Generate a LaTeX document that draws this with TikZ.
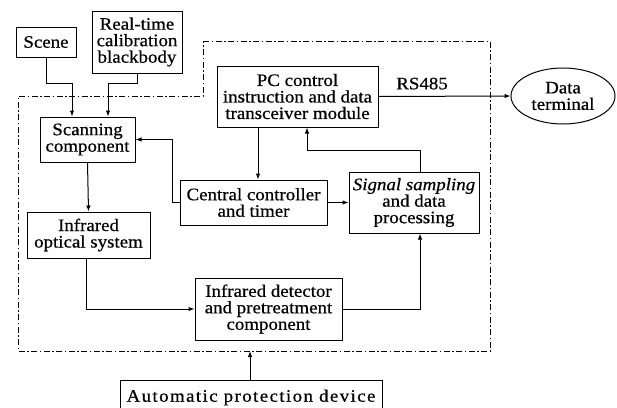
\documentclass[tikz,border=0pt]{standalone}
\usepackage{fontspec}
\setmainfont{Liberation Serif}[FakeStretch=1.08,FakeBold=0.6]
\usetikzlibrary{arrows.meta,shapes.geometric}
\begin{document}
\begin{tikzpicture}[x=1pt,y=-1pt,
  font=\fontsize{17.5}{16.5}\selectfont,
  box/.style={draw,line width=1pt,rectangle,inner sep=0pt,align=center},
  conn/.style={line width=1pt,-{Latex[length=6pt,width=4.5pt]}},
  border/.style={line width=0.8pt,dash pattern=on 6pt off 2.5pt on 1.5pt off 2.5pt}]
\clip (0,0) rectangle (617,407);
\fill[white] (0,0) rectangle (617,407);
% boundary
\draw[border] (203,41) -- (490,41) -- (490,351) -- (18,351) -- (18,96) -- (203,96) -- cycle;
% nodes
\node[box,minimum width=60pt,minimum height=30pt] (scene) at (46,42) {Scene};
\node[box,minimum width=90pt,minimum height=62pt] (bb) at (137,42) {Real-time\\calibration\\blackbody};
\node[box,minimum width=95pt,minimum height=45pt] (scan) at (87.5,139.5) {Scanning\\component};
\node[box,minimum width=161pt,minimum height=61pt] (pc) at (297.5,96.5) {PC control\\instruction and data\\transceiver module};
\node[draw,line width=1pt,ellipse,inner sep=0pt,minimum width=104pt,minimum height=56pt,align=center] (term) at (563,96) {Data\\terminal};
\node[box,minimum width=147pt,minimum height=45pt] (cc) at (253.5,202.5) {Central controller\\and timer};
\node[box,minimum width=130pt,minimum height=61pt] (sig) at (414,202.5) {\textit{Signal sampling}\\and data\\processing};
\node[box,minimum width=123pt,minimum height=46pt] (opt) at (88.5,235) {Infrared\\optical system};
\node[box,minimum width=147pt,minimum height=62pt] (det) at (268.5,309) {Infrared detector\\and pretreatment\\component};
\node[box,minimum width=262pt,minimum height=34pt,anchor=north] (auto) at (251,380) {\addfontfeature{LetterSpace=8}Automatic protection device};
\coordinate (bnd) at (250,351);
\coordinate (pcdown) at (258,0);
% connectors
\draw[conn] (scene.south) -- ++(0,26) -| ([xshift=-15.5pt]scan.north);
\draw[conn] (bb.south) -- ++(0,10) -| ([xshift=20.5pt]scan.north);
\draw[conn] (pc.south -| pcdown) -- (cc.north -| pcdown);
\draw[conn] (cc.west) -- ++(-7,0) |- (scan.east);
\draw[conn] (cc.east) -- (sig.west);
\draw[conn] ([xshift=6pt]sig.north) -- ++(0,-21) -| ([xshift=9.5pt]pc.south);
\draw[conn] (pc.east) -- node[above=3pt,pos=0.33] (rs) {RS485} (term.west);
\draw[conn] (scan.south) -- (opt.north);
\draw[conn] ([xshift=-2.5pt]opt.south) |- (det.west);
\draw[conn] (det.east) -| ([xshift=6pt]sig.south);
\draw[conn] ([xshift=-1pt]auto.north) -- (bnd);
\end{tikzpicture}
\end{document}
